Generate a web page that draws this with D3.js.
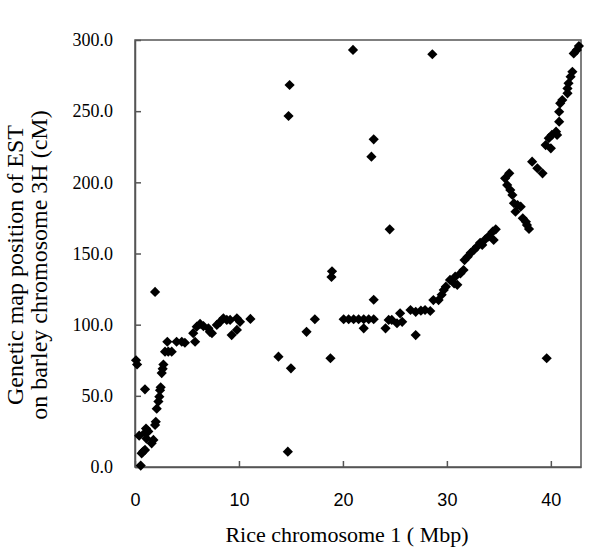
<!DOCTYPE html>
<html>
  <head>
    <meta charset="utf-8">
    <title>Rice chromosome 1 vs barley chromosome 3H</title>
    <script src="https://d3js.org/d3.v7.min.js"></script>
    <style>
      body { margin: 0; background: #fff; }
    </style>
  </head>
  <body>
    <div id="chart"></div>

    <script>

        // rice position (Mbp) and barley genetic position (cM)
        let ricePos = [
            0.1, 0.2, 0.4, 0.55, 0.64, 0.8, 0.96, 1.06, 0.96, 1.28, 1.1, 0.96, 1.6, 1.77, 1.93, 2.0, 1.93,
            2.09, 2.25, 2.34, 2.41, 2.47, 2.57, 2.66, 2.73, 2.89, 3.2, 3.53, 3.11, 4.0, 4.5, 4.8, 5.6, 5.78,
            5.94, 6.26, 6.58, 7.06, 7.2, 7.4, 7.87, 8.19, 8.5, 8.83, 9.15, 9.3, 9.8, 9.8, 10.1, 11.1,
            13.8, 15.0, 14.7, 14.87, 14.77, 16.5, 17.3, 18.8, 18.9, 18.95,
            20.07, 20.55, 21.03, 21.51, 22.0, 22.48, 22.96, 22.0, 20.97, 22.74, 22.96, 22.96, 24.5, 24.1,
            24.4, 24.7, 25.2, 25.5, 25.7, 26.5, 27.0, 27.0, 27.5, 27.9, 28.4, 28.6,
            28.7, 29.2, 29.5, 29.7, 29.9, 30.3, 30.7, 31.0, 30.8, 31.3, 31.6, 31.7, 32.0, 32.3, 32.6, 32.9,
            33.2, 33.4, 33.7, 34.0, 34.4, 34.5, 34.7,
            35.6, 35.8, 36.0, 36.1, 36.3, 36.45, 36.8, 37.1, 36.6, 37.3, 37.6, 37.7, 37.9, 38.2, 38.7, 39.2,
            39.6, 39.5, 39.8, 40.0, 40.1, 40.5, 40.6, 40.8, 40.8, 40.9, 41.1, 41.6, 41.6, 41.7, 41.9, 42.07,
            42.2, 42.5, 42.7
        ]
        let barleyPos = [
            75, 72, 22, 1, 9.6, 11, 12, 27, 24, 25, 20, 54.6, 16.6, 19, 29.5, 31.8, 123,
            41, 46, 49.4, 54, 56, 66, 69, 72, 81, 81, 81, 88, 88, 88, 87.3, 94, 88,
            98.6, 100.5, 99, 97.4, 95, 94, 99.8, 102, 104.5, 103.3, 103.3, 92.7, 96.3, 104.5, 102, 104,
            77.5, 69.3, 10.8, 268.4, 246.6, 95, 103.8, 76.4, 133.5, 137.5,
            103.8, 103.8, 103.8, 103.8, 103.8, 103.8, 103.8, 97.4, 293, 218, 230.2, 117.5, 167, 97.4,
            103.3, 103.3, 101, 108, 102, 110.3, 109, 92.7, 109.8, 110.3, 109.6, 290,
            117.3, 117.3, 121, 124.4, 126.7, 131.4, 129, 128, 133.7, 136, 138.4, 145.4, 147.8, 150.5, 152.5, 154.8,
            157.5, 156, 160, 162, 165.3, 159.5, 167,
            202.8, 198.1, 206.3, 194.6, 191.1, 185.3, 184, 182.9, 179.4, 174.7, 172.3, 170, 167.2, 214.5, 209.9, 206.3,
            76.4, 226.2, 231, 223.9, 233.3, 235.6, 233.3, 242.6, 249.6, 255.5, 257.8, 262.5, 266, 269.6, 274.2, 277.7,
            290.6, 293, 295.8
        ]
        let xTicks = [0, 10, 20, 30, 40]
        let yTicks = [0, 50, 100, 150, 200, 250, 300]

        let serif = '"Liberation Serif", "Times New Roman", serif',
            sans = '"Liberation Sans", Arial, sans-serif'

        let width = 600,
            height = 556,
            margin = {top: 40, right: 19, bottom: 89, left: 135}

        let svg = d3.select("#chart").append("svg")
            .attr("width", width)
            .attr("height", height)

        let x = d3.scaleLinear().domain([0, 42.9]).range([margin.left, width - margin.right]),
            y = d3.scaleLinear().domain([0, 300]).range([height - margin.bottom, margin.top])

        let points = ricePos.map((d, i) => ({x: d, y: barleyPos[i]}))

        // frame
        svg.append("rect")
            .attr("x", x(0))
            .attr("y", y(300))
            .attr("width", x(42.9) - x(0))
            .attr("height", y(0) - y(300))
            .attr("fill", "none")
            .attr("stroke", "#555")
            .attr("stroke-width", 1.5)

        // axes, ticks point inward
        let xAxis = svg.append("g")
            .attr("transform", `translate(0,${y(0)})`)
            .call(d3.axisBottom(x).tickValues(xTicks).tickSizeInner(-6).tickSizeOuter(0).tickPadding(26))
        xAxis.select(".domain").attr("stroke", "#555").attr("stroke-width", 1.5)
        xAxis.selectAll(".tick line").attr("stroke", "#555").attr("stroke-width", 1.5)
        xAxis.selectAll("text")
            .style("font-family", sans)
            .style("font-size", "18px")
            .attr("fill", "#000")

        let yAxis = svg.append("g")
            .attr("transform", `translate(${x(0)},0)`)
            .call(d3.axisLeft(y).tickValues(yTicks).tickFormat(d3.format(".1f"))
                .tickSizeInner(-6).tickSizeOuter(0).tickPadding(22))
        yAxis.select(".domain").attr("stroke", "#555").attr("stroke-width", 1.5)
        yAxis.selectAll(".tick line").attr("stroke", "#555").attr("stroke-width", 1.5)
        yAxis.selectAll("text")
            .style("font-family", serif)
            .style("font-size", "18px")
            .attr("fill", "#000")

        // markers
        let diamond = d3.symbol().type(d3.symbolSquare).size(52)
        svg.append("g").selectAll("path")
            .data(points)
            .enter().append("path")
            .attr("d", diamond)
            .attr("transform", d => `translate(${x(d.x)},${y(d.y)}) rotate(45)`)
            .attr("fill", "#000")

        // axis titles
        svg.append("text")
            .style("font-family", serif)
            .attr("x", 347)
            .attr("y", 542)
            .attr("text-anchor", "middle")
            .style("font-size", "22px")
            .text("Rice chromosome 1 ( Mbp)")

        let yTitle = svg.append("text")
            .style("font-family", serif)
            .attr("transform", "translate(0,265) rotate(-90)")
            .attr("text-anchor", "middle")
            .style("font-size", "24px")
        yTitle.append("tspan").attr("x", 0).attr("y", 23).text("Genetic map position of EST")
        yTitle.append("tspan").attr("x", 0).attr("y", 47).text("on barley chromosome 3H (cM)")

    </script>
  </body>
</html>
